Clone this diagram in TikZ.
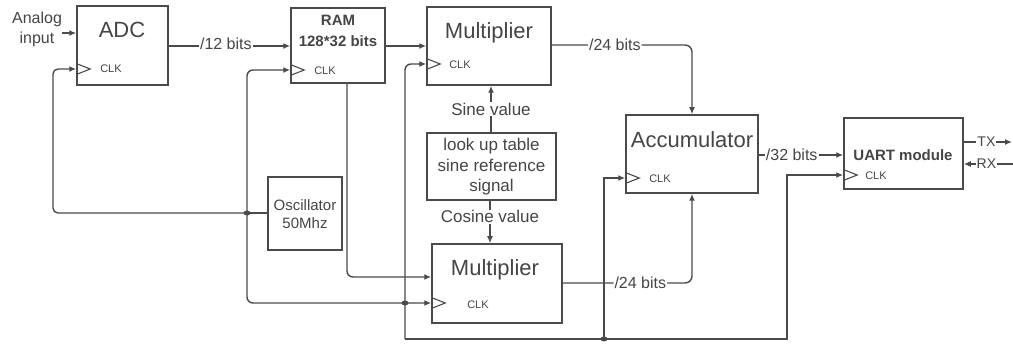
\documentclass[tikz,border=0pt]{standalone}
\usepackage{fontspec}
\setmainfont{Liberation Sans}
\usetikzlibrary{arrows.meta}
\definecolor{wire}{HTML}{4A4A4A}
\definecolor{ink}{HTML}{454545}

\tikzset{
  blk/.style={draw=wire, line width=1.5pt, inner sep=0pt},
  wire/.style={draw=wire, line width=1.4pt},
  arr/.style={wire, -{Latex[length=7pt,width=6pt]}},
  big/.style={text=ink, font=\fontsize{22}{24}\selectfont, inner sep=0pt},
  txt/.style={text=ink, font=\fontsize{16}{20}\selectfont, inner sep=0pt, align=center},
  bold/.style={text=ink, font=\bfseries\fontsize{15}{20}\selectfont, inner sep=0pt, align=center},
  clk/.style={text=ink, font=\fontsize{11}{12}\selectfont, inner sep=0pt},
  clktri/.style={draw=wire, line width=1.1pt},
  dot/.style={ellipse, fill=wire, inner sep=0pt, minimum width=7pt, minimum height=5pt},
  bus/.style={fill=white, inner sep=1pt, text=ink, font=\fontsize{16}{18}\selectfont},
}
\usetikzlibrary{shapes.geometric}
\newcommand{\clkmark}[1]{\draw[clktri] (#1) ++(0,-5.5) -- ++(14,5.5) -- ++(-14,5.5);}

\begin{document}
\begin{tikzpicture}[x=1pt,y=-1pt]
\useasboundingbox (0,0) rectangle (1013,344);

% ---- blocks ----
\node[blk, minimum width=91pt,  minimum height=79pt] (adc)  at (122.5,45.5) {};
\node[blk, minimum width=94pt,  minimum height=75pt] (ram)  at (338,45.5) {};
\node[blk, minimum width=124pt, minimum height=78pt] (mula) at (489,46) {};
\node[blk, minimum width=129pt, minimum height=67pt] (lut)  at (491.5,166.5) {};
\node[blk, minimum width=74pt,  minimum height=73pt] (osc)  at (305,213.5) {};
\node[blk, minimum width=130pt, minimum height=79pt] (mulb) at (497,283.5) {};
\node[blk, minimum width=132pt, minimum height=78pt] (acc)  at (692,154) {};
\node[blk, minimum width=119pt, minimum height=71pt] (uart) at (903.5,153.5) {};

% ---- block titles ----
\node[big] (adct)  at (122,30) {ADC};
\node[bold] (ramt) at (338,31) {RAM\\[1pt]128*32 bits};
\node[big] (mulat) at (489,33) {Multiplier};
\node[big] (mulbt) at (495,270) {Multiplier};
\node[big] (acct)  at (692,140) {Accumulator};
\node[bold] (uartt) at (903,155) {UART module};
\node[txt, font=\fontsize{17}{20.5}\selectfont] (lutt) at (491.5,167) {look up table\\sine reference\\signal};
\node[txt, font=\fontsize{15}{18}\selectfont] (osct) at (305,214) {Oscillator\\50Mhz};
\node[txt] (ain) at (37,29) {Analog\\input};

% ---- pins ----
\coordinate (adc-in)   at (adc.west |- 0,33);
\coordinate (adc-out)  at (adc.east |- 0,46);
\coordinate (adc-clk)  at (adc.west |- 0,69);
\coordinate (ram-in)   at (ram.west |- 0,46);
\coordinate (ram-out)  at (ram.east |- 0,46);
\coordinate (ram-clk)  at (ram.west |- 0,70);
\coordinate (ram-bot)  at (ram.south -| 347,0);
\coordinate (mula-in)  at (mula.west |- 0,46);
\coordinate (mula-out) at (mula.east |- 0,45);
\coordinate (mula-clk) at (mula.west |- 0,64);
\coordinate (mulb-in)  at (mulb.west |- 0,277);
\coordinate (mulb-out) at (mulb.east |- 0,283);
\coordinate (mulb-clk) at (mulb.west |- 0,303);
\coordinate (acc-out)  at (acc.east |- 0,155);
\coordinate (acc-clk)  at (acc.west |- 0,178);
\coordinate (uart-in)  at (uart.west |- 0,155);
\coordinate (uart-clk) at (uart.west |- 0,175);
\coordinate (uart-tx)  at (uart.east |- 0,142);
\coordinate (uart-rx)  at (uart.east |- 0,164);
\coordinate (tx-end)   at (1012,142);
\coordinate (rx-start) at (1013,164);
\coordinate (osc-out)  at (osc.west |- 0,213);

% ---- clock junctions ----
\coordinate (j1) at (247,213);
\coordinate (j2) at (405,303);
\coordinate (j3) at (604,339);
\coordinate (busb) at (405,339);
\coordinate (busc) at (787,339);
\coordinate (adcturn) at (53,213);

% ---- clock markers ----
\clkmark{adc-clk}
\clkmark{ram-clk}
\clkmark{mula-clk}
\clkmark{mulb-clk}
\clkmark{acc-clk}
\clkmark{uart-clk}
\node[clk] (adcc)  at (111,69)  {CLK};
\node[clk] (ramc)  at (325,71)  {CLK};
\node[clk] (mulac) at (460,65)  {CLK};
\node[clk] (mulbc) at (478,305) {CLK};
\node[clk] (accc)  at (660,179) {CLK};
\node[clk] (uartc) at (876,176) {CLK};

% ---- data path ----
\draw[arr] (ain.east |- adc-in) -- (adc-in);
\draw[arr] (adc-out) -- node[bus, pos=0.47, yshift=2pt] (l12) {/12 bits} (ram-in);
\draw[arr] (ram-out) -- (mula-in);
\draw[arr, rounded corners=7pt] (mula-out) -- node[bus, pos=0.45] (l24a) {/24 bits} (acc.north |- mula-out) -- (acc.north);
\draw[arr, rounded corners=7pt] (mulb-out) -- node[bus, pos=0.6] (l24b) {/24 bits} (acc.south |- mulb-out) -- (acc.south);
\draw[arr] (acc-out) -- node[bus, pos=0.39] (l32) {/32 bits} (uart-in);
\draw[arr] (uart-tx) -- node[bus, pos=0.47, font=\fontsize{14}{16}\selectfont] (ltx) {TX} (tx-end);
\draw[arr] (rx-start) -- node[bus, pos=0.54, font=\fontsize{14}{16}\selectfont] (lrx) {RX} (uart-rx);
\draw[arr] (lut.north -| 491,0) -- node[bus, font=\fontsize{17}{18}\selectfont] (lsin) {Sine value} (mula.south -| 491,0);
\draw[arr] (lut.south -| 490,0) -- node[bus, pos=0.38, font=\fontsize{17}{18}\selectfont] (lcos) {Cosine value} (mulb.north -| 490,0);
\draw[arr, rounded corners=6pt] (ram-bot) |- (mulb-in);

% ---- clock distribution ----
\draw[wire] (osc-out) -- (j1);
\draw[arr, rounded corners=5pt] (j1) -- (adcturn) |- (adc-clk);
\draw[arr, rounded corners=6pt] (j1) |- (ram-clk);
\draw[arr, rounded corners=6pt] (j1) |- (mulb-clk);
\draw[arr, rounded corners=6pt] (busb) |- (mula-clk);
\draw[arr] (busb) -- (busc) |- (uart-clk);
\draw[arr] (j3) |- (acc-clk);

\node[dot] (d1) at (j1) {};
\node[dot] (d2) at (j2) {};
\node[dot] (d3) at (j3) {};
\end{tikzpicture}
\end{document}
